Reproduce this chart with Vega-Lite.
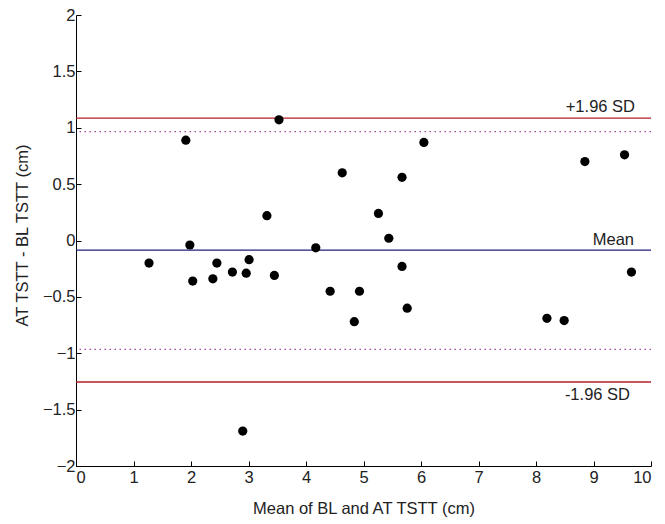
{
  "$schema": "https://vega.github.io/schema/vega-lite/v6.json",
  "width": 575,
  "height": 451,
  "autosize": "none",
  "padding": {"left": 76, "top": 15, "right": 14, "bottom": 58},
  "background": "white",
  "config": {
    "view": {"stroke": null},
    "font": "Liberation Sans",
    "axis": {
      "grid": false,
      "domainColor": "#000000",
      "domainWidth": 1,
      "tickColor": "#000000",
      "tickSize": -5,
      "labelFont": "Liberation Sans",
      "labelFontSize": 16.5,
      "labelColor": "#222222",
      "titleFont": "Liberation Sans",
      "titleFontSize": 16.5,
      "titleFontWeight": "normal",
      "titleColor": "#222222"
    }
  },
  "datasets": {
    "points": [
      {"mean": 1.27, "diff": -0.20},
      {"mean": 1.91, "diff": 0.89},
      {"mean": 1.98, "diff": -0.04},
      {"mean": 2.03, "diff": -0.36},
      {"mean": 2.38, "diff": -0.34},
      {"mean": 2.45, "diff": -0.20},
      {"mean": 2.72, "diff": -0.28},
      {"mean": 2.90, "diff": -1.69},
      {"mean": 2.96, "diff": -0.29},
      {"mean": 3.01, "diff": -0.17},
      {"mean": 3.32, "diff": 0.22},
      {"mean": 3.45, "diff": -0.31},
      {"mean": 3.53, "diff": 1.07},
      {"mean": 4.17, "diff": -0.065},
      {"mean": 4.42, "diff": -0.45},
      {"mean": 4.63, "diff": 0.60},
      {"mean": 4.84, "diff": -0.72},
      {"mean": 4.93, "diff": -0.45},
      {"mean": 5.26, "diff": 0.24},
      {"mean": 5.44, "diff": 0.02},
      {"mean": 5.67, "diff": 0.56},
      {"mean": 5.67, "diff": -0.23},
      {"mean": 5.76, "diff": -0.60},
      {"mean": 6.05, "diff": 0.87},
      {"mean": 8.19, "diff": -0.69},
      {"mean": 8.49, "diff": -0.71},
      {"mean": 8.85, "diff": 0.70},
      {"mean": 9.54, "diff": 0.76},
      {"mean": 9.66, "diff": -0.28}
    ],
    "lines": [
      {"value": 1.085, "kind": "sd", "label": "+1.96 SD"},
      {"value": -0.085, "kind": "mean", "label": "Mean"},
      {"value": -1.255, "kind": "sd", "label": "-1.96 SD"}
    ],
    "dots": [
      {"value": 0.965},
      {"value": -0.965}
    ]
  },
  "layer": [
    {
      "data": {"name": "dots"},
      "mark": {"type": "rule", "color": "#a04aa0", "strokeWidth": 1.3, "strokeDash": [1.5, 3.5]},
      "encoding": {
        "y": {"field": "value", "type": "quantitative", "scale": {"domain": [-2, 2], "nice": false}}
      }
    },
    {
      "data": {"name": "lines"},
      "mark": {"type": "rule", "strokeWidth": 1.3},
      "encoding": {
        "y": {"field": "value", "type": "quantitative"},
        "color": {
          "field": "kind", "type": "nominal",
          "scale": {"domain": ["sd", "mean"], "range": ["#b41e26", "#1f1f80"]},
          "legend": null
        }
      }
    },
    {
      "data": {"name": "lines"},
      "transform": [{"filter": "datum.kind == 'sd' && datum.value > 0"}],
      "mark": {"type": "text", "align": "right", "baseline": "alphabetic", "dx": -16, "dy": -6, "fontSize": 16.5, "color": "#222222"},
      "encoding": {
        "x": {"datum": 10, "type": "quantitative"},
        "y": {"field": "value", "type": "quantitative"},
        "text": {"field": "label"}
      }
    },
    {
      "data": {"name": "lines"},
      "transform": [{"filter": "datum.kind == 'mean'"}],
      "mark": {"type": "text", "align": "right", "baseline": "alphabetic", "dx": -17, "dy": -5, "fontSize": 16.5, "color": "#222222"},
      "encoding": {
        "x": {"datum": 10, "type": "quantitative"},
        "y": {"field": "value", "type": "quantitative"},
        "text": {"field": "label"}
      }
    },
    {
      "data": {"name": "lines"},
      "transform": [{"filter": "datum.kind == 'sd' && datum.value < 0"}],
      "mark": {"type": "text", "align": "right", "baseline": "alphabetic", "dx": -21, "dy": 18, "fontSize": 16.5, "color": "#222222"},
      "encoding": {
        "x": {"datum": 10, "type": "quantitative"},
        "y": {"field": "value", "type": "quantitative"},
        "text": {"field": "label"}
      }
    },
    {
      "data": {"name": "points"},
      "mark": {"type": "circle", "size": 85, "color": "#000000", "opacity": 1},
      "encoding": {
        "x": {
          "field": "mean", "type": "quantitative",
          "scale": {"domain": [0, 10], "nice": false},
          "axis": {
            "values": [0, 1, 2, 3, 4, 5, 6, 7, 8, 9, 10],
            "format": "~g",
            "title": "Mean of BL and AT TSTT (cm)",
            "labelPadding": 8,
            "titleY": 47,
            "titleBaseline": "alphabetic"
          }
        },
        "y": {
          "field": "diff", "type": "quantitative",
          "scale": {"domain": [-2, 2], "nice": false},
          "axis": {
            "values": [-2, -1.5, -1, -0.5, 0, 0.5, 1, 1.5, 2],
            "format": "~g",
            "title": "AT TSTT - BL TSTT (cm)",
            "labelPadding": 6,
            "titleX": -54,
            "titleY": 220,
            "titleBaseline": "middle",
            "titleAngle": -90
          }
        }
      }
    }
  ]
}
